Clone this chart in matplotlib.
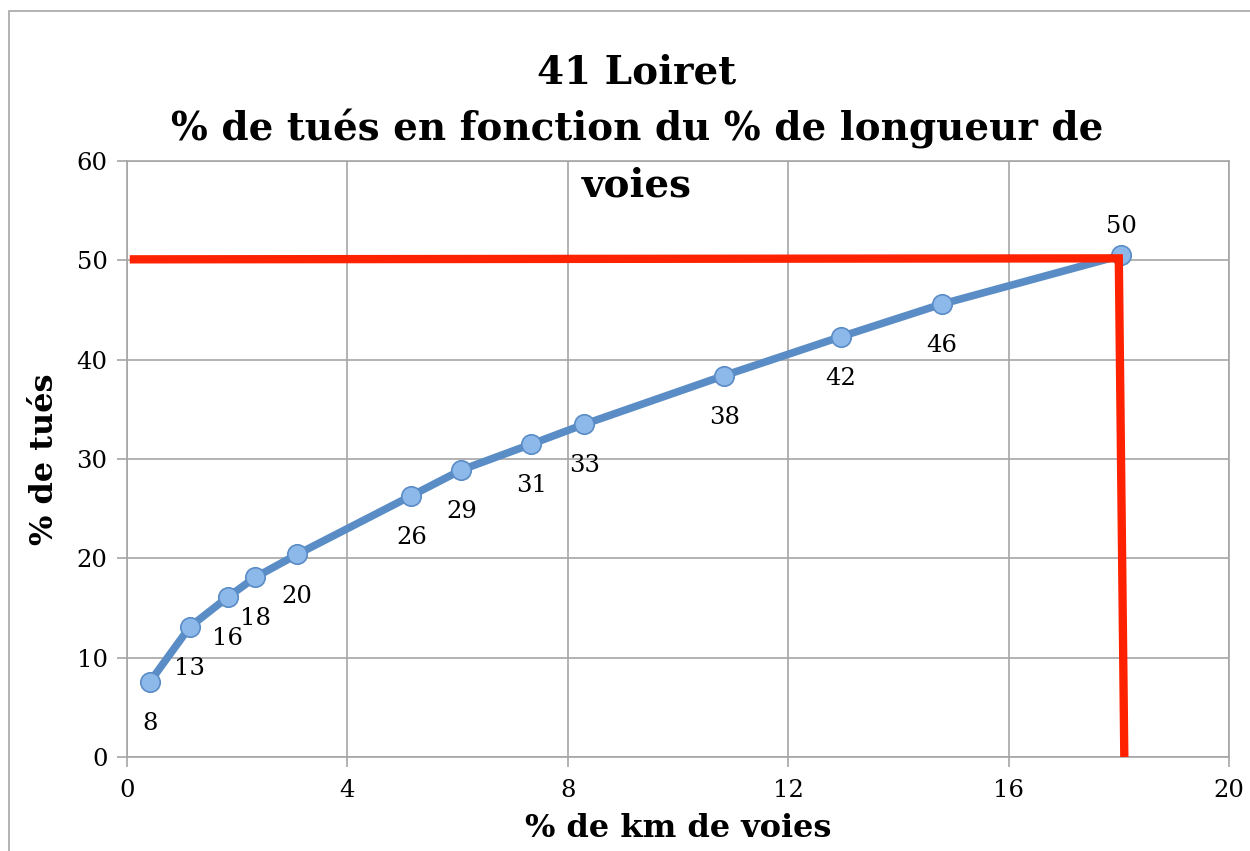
import matplotlib
matplotlib.use("Agg")
import matplotlib.pyplot as plt
from matplotlib.patches import Rectangle

x_vals = [0.42, 1.14, 1.83, 2.33, 3.09, 5.16, 6.07, 7.34, 8.30, 10.84, 12.95, 14.79, 18.04]
y_vals = [7.6, 13.1, 16.1, 18.1, 20.4, 26.3, 28.9, 31.5, 33.5, 38.4, 42.3, 45.6, 50.5]
labels = ["8", "13", "16", "18", "20", "26", "29", "31", "33", "38", "42", "46", "50"]
red_x = [0.05, 18.0, 18.1]
red_y = [50.1, 50.2, 0.0]

plt.rcParams['font.family'] = ['DejaVu Serif']

fig = plt.figure(figsize=(12.5, 8.51), dpi=100)
ax = fig.add_axes([127/1250, 1-757/851, (1229-127)/1250, (757-161)/851])

fig.patches.append(Rectangle((9/1250, -0.1), 1.2, (851-11)/851 + 0.1, transform=fig.transFigure,
                             fill=False, edgecolor='#a6a6a6', linewidth=1.2))

ax.set_xlim(0, 20)
ax.set_ylim(0, 60)
ax.set_xticks(range(0, 21, 4))
ax.set_yticks(range(0, 61, 10))
ax.grid(True, color='#a6a6a6', linewidth=1.2)
ax.set_axisbelow(True)
for s in ax.spines.values():
    s.set_color('#a6a6a6')
    s.set_linewidth(1.2)
ax.tick_params(axis='both', length=7, width=1.2, color='#a6a6a6', labelsize=17.5)
ax.tick_params(axis='x', pad=9)
ax.tick_params(axis='y', pad=7)

ax.plot(x_vals, y_vals, color='#5a8cc6', linewidth=5.5, solid_capstyle='round', zorder=3)
ax.plot(x_vals, y_vals, linestyle='none', marker='o', markersize=14,
        markerfacecolor='#8db8ea', markeredgecolor='#5a8cc6', markeredgewidth=1.2, zorder=4)
ax.plot(red_x, red_y, color='#ff2200', linewidth=6, zorder=5, clip_on=False,
        solid_capstyle='butt', solid_joinstyle='miter')

for i, (xv, yv, lb) in enumerate(zip(x_vals, y_vals, labels)):
    dy = 21 if i == len(labels) - 1 else -30
    ax.annotate(lb, (xv, yv), xytext=(0, dy), textcoords='offset points',
                ha='center', va='center', fontsize=17.5, zorder=6)

fig.text(637/1250, 1-129/851, "41 Loiret\n% de tués en fonction du % de longueur de\nvoies",
         ha='center', va='center', fontsize=28, fontweight='bold', linespacing=1.58)
ax.set_xlabel("% de km de voies", fontsize=23, fontweight='bold', labelpad=8)
ax.set_ylabel("% de tués", fontsize=23, fontweight='bold', labelpad=12)

fig.savefig("out.png", dpi=100)
